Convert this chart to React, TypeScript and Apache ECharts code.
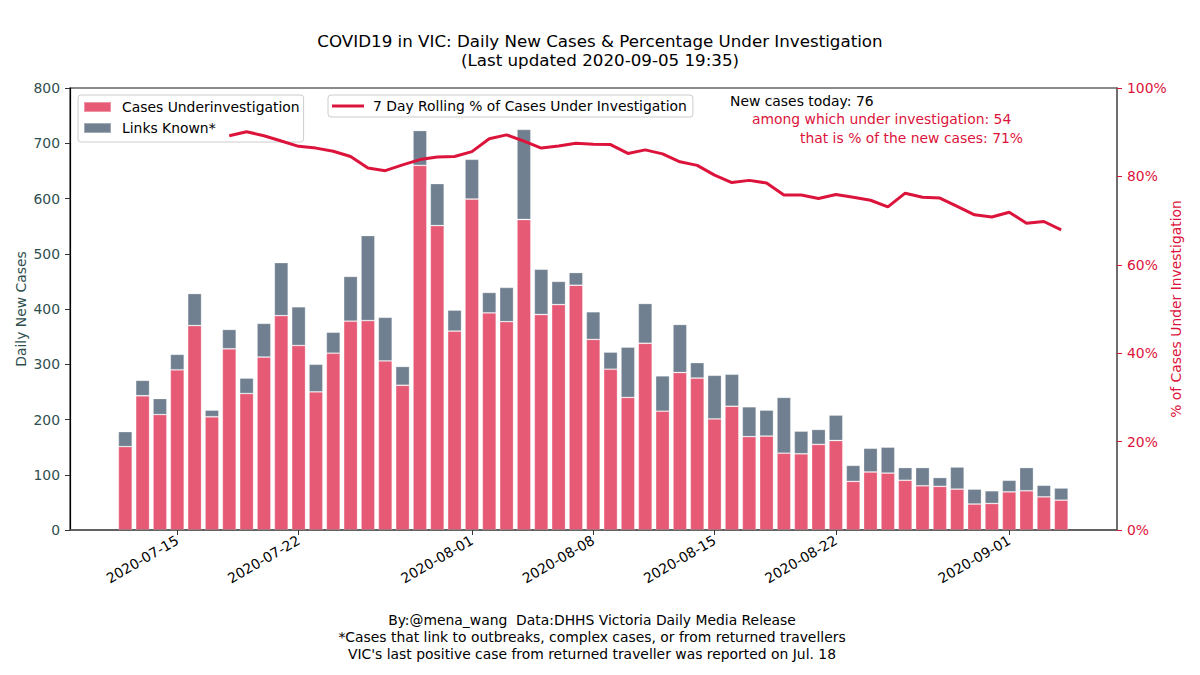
import React, { useEffect, useRef } from "react";
import * as echarts from "echarts";

const dates = [
  "2020-07-12", "2020-07-13", "2020-07-14", "2020-07-15", "2020-07-16", "2020-07-17", "2020-07-18",
  "2020-07-19", "2020-07-20", "2020-07-21", "2020-07-22", "2020-07-23", "2020-07-24", "2020-07-25",
  "2020-07-26", "2020-07-27", "2020-07-28", "2020-07-29", "2020-07-30", "2020-07-31", "2020-08-01",
  "2020-08-02", "2020-08-03", "2020-08-04", "2020-08-05", "2020-08-06", "2020-08-07", "2020-08-08",
  "2020-08-09", "2020-08-10", "2020-08-11", "2020-08-12", "2020-08-13", "2020-08-14", "2020-08-15",
  "2020-08-16", "2020-08-17", "2020-08-18", "2020-08-19", "2020-08-20", "2020-08-21", "2020-08-22",
  "2020-08-23", "2020-08-24", "2020-08-25", "2020-08-26", "2020-08-27", "2020-08-28", "2020-08-29",
  "2020-08-30", "2020-08-31", "2020-09-01", "2020-09-02", "2020-09-03", "2020-09-04",
];

const underInvestigation = [
  151, 243, 209, 290, 370, 205, 328, 247, 313, 388, 334, 250, 320, 378, 379, 306, 262, 660, 551, 360,
  599, 393, 377, 562, 390, 408, 443, 345, 291, 240, 338, 215, 285, 275, 201, 224, 169, 170, 139, 138,
  155, 162, 88, 105, 103, 90, 80, 79, 74, 47, 48, 69, 71, 60, 54,
];

const totalCases = [
  178, 271, 238, 318, 428, 217, 363, 275, 374, 484, 404, 300, 358, 459, 533, 385, 296, 723, 627, 398,
  671, 430, 439, 725, 472, 450, 466, 395, 322, 331, 410, 279, 372, 303, 280, 282, 223, 217, 240, 179,
  182, 208, 117, 148, 150, 113, 113, 95, 114, 74, 71, 90, 113, 81, 76,
];

// 7-day rolling % under investigation, starting at 2020-07-18
const rollingStart = 6;
const rollingPct = [
  89.2, 90.1, 89.2, 88.0, 86.8, 86.4, 85.7, 84.5, 81.9, 81.3, 82.6, 83.8, 84.4, 84.5, 85.6, 88.5, 89.4,
  88.0, 86.4, 86.9, 87.5, 87.3, 87.2, 85.2, 86.0, 85.1, 83.3, 82.5, 80.3, 78.6, 79.1, 78.5, 75.8, 75.8,
  75.0, 75.9, 75.3, 74.6, 73.1, 76.2, 75.3, 75.1, 73.2, 71.3, 70.8, 71.9, 69.4, 69.8, 67.9,
];

const tickDates = ["2020-07-15", "2020-07-22", "2020-08-01", "2020-08-08", "2020-08-15", "2020-08-22", "2020-09-01"];
const leftTicks = { min: 0, max: 800, interval: 100 };
const rightTicks = { min: 0, max: 100, interval: 20 };

const FONT = "DejaVu Sans";
const CRIMSON = "#dc143c";
const RED_BAR = "rgba(220,20,60,0.7)";
const GRAY_BAR = "#708090";

// plot frame (pixels) and day-padding of the x range
const PLOT = { left: 70, right: 1117, top: 88, bottom: 530 };
const X_MIN = -3.19;
const X_MAX = 57.22;

export default function App() {
  const ref = useRef<HTMLDivElement>(null);

  useEffect(() => {
    if (!ref.current) return;
    const chart = echarts.init(ref.current, null, { renderer: "svg" });
    const tickIdx = tickDates.map((d) => dates.indexOf(d));
    const lineData = rollingPct.map((v, i) => [i + rollingStart, v]);
    const last = dates.length - 1;
    const lastTotal = totalCases[last];
    const lastInv = underInvestigation[last];
    const lastPct = Math.round((lastInv / lastTotal) * 100);

    // band grid for the bars: category bands aligned with the day positions of the value axis
    const pxPerDay = (PLOT.right - PLOT.left) / (X_MAX - X_MIN);
    const bandLeft = PLOT.left + (-0.5 - X_MIN) * pxPerDay;
    const bandRight = PLOT.left + (last + 0.5 - X_MIN) * pxPerDay;

    chart.setOption({
      animation: false,
      backgroundColor: "#fff",
      textStyle: { fontFamily: FONT },
      grid: [
        {
          left: PLOT.left,
          right: 1200 - PLOT.right,
          top: PLOT.top,
          bottom: 675 - PLOT.bottom,
          show: true,
          borderColor: "#666",
          borderWidth: 1.5,
          backgroundColor: "transparent",
        },
        {
          left: bandLeft,
          right: 1200 - bandRight,
          top: PLOT.top,
          bottom: 675 - PLOT.bottom,
        },
      ],
      legend: [
        {
          data: ["Cases Underinvestigation", "Links Known*"],
          orient: "vertical",
          left: 78,
          top: 95,
          icon: "rect",
          itemWidth: 27,
          itemHeight: 10,
          itemGap: 5,
          padding: [4, 4, 6, 5],
          borderColor: "#ccc",
          borderWidth: 1,
          borderRadius: 3,
          backgroundColor: "rgba(255,255,255,0.8)",
          formatter: (n: string) => `{t|${n}}`,
          textStyle: {
            rich: { t: { fontFamily: FONT, fontSize: 13.9, color: "#000", padding: [0, 0, 0, 6], height: 16, lineHeight: 16 } },
          },
        },
        {
          data: [{ name: "7 Day Rolling % of Cases Under Investigation", icon: "rect" }],
          left: 328,
          top: 95,
          itemWidth: 32,
          itemHeight: 3,
          padding: [4, 6, 4, 4],
          borderColor: "#ccc",
          borderWidth: 1,
          borderRadius: 3,
          backgroundColor: "rgba(255,255,255,0.8)",
          formatter: (n: string) => `{t|${n}}`,
          textStyle: {
            rich: { t: { fontFamily: FONT, fontSize: 13.9, color: "#000", padding: [0, 0, 0, 4], lineHeight: 16 } },
          },
        },
      ],
      xAxis: [
        {
          type: "value",
          gridIndex: 0,
          min: X_MIN,
          max: X_MAX,
          splitLine: { show: false },
          axisLine: { show: true, onZero: false, lineStyle: { color: "#555", width: 1.5 } },
          axisTick: { show: true, length: 5, customValues: tickIdx, lineStyle: { color: "#333" } },
          axisLabel: {
            customValues: tickIdx,
            rotate: 30,
            margin: 9,
            color: "#000",
            fontFamily: FONT,
            fontSize: 13.9,
            formatter: (v: number) => dates[Math.round(v)] ?? "",
          },
        },
        {
          type: "category",
          gridIndex: 1,
          data: dates,
          show: false,
          boundaryGap: true,
        },
      ],
      yAxis: [
        {
          type: "value",
          gridIndex: 0,
          position: "left",
          ...leftTicks,
          splitLine: { show: false },
          axisLine: { show: true, onZero: false, lineStyle: { color: "#000", width: 1.2 } },
          axisTick: { show: true, length: 5, lineStyle: { color: "#333" } },
          axisLabel: { color: "#2f4f4f", fontFamily: FONT, fontSize: 13.9, margin: 10 },
          name: "Daily New Cases",
          nameLocation: "middle",
          nameMoveOverlap: false,
          nameGap: 42,
          nameTextStyle: { color: "#2f4f4f", fontFamily: FONT, fontSize: 13.9 },
        },
        {
          type: "value",
          gridIndex: 0,
          position: "right",
          ...rightTicks,
          splitLine: { show: false },
          axisLine: { show: true, onZero: false, lineStyle: { color: "#666", width: 1.5 } },
          axisTick: { show: true, length: 5, lineStyle: { color: CRIMSON } },
          axisLabel: { color: CRIMSON, fontFamily: FONT, fontSize: 13.9, margin: 10, formatter: "{value}%" },
          name: "% of Cases Under Investigation",
          nameLocation: "middle",
          nameMoveOverlap: false,
          nameGap: 52,
          nameTextStyle: { color: CRIMSON, fontFamily: FONT, fontSize: 13.9 },
        },
        {
          type: "value",
          gridIndex: 1,
          ...leftTicks,
          show: false,
          splitLine: { show: false },
        },
      ],
      series: [
        {
          name: "Cases Underinvestigation",
          type: "bar",
          xAxisIndex: 1,
          yAxisIndex: 2,
          stack: "total",
          barWidth: "80%",
          data: underInvestigation,
          itemStyle: { color: RED_BAR, borderColor: "rgba(255,255,255,0.35)", borderWidth: 0.8 },
        },
        {
          name: "Links Known*",
          type: "bar",
          xAxisIndex: 1,
          yAxisIndex: 2,
          stack: "total",
          barWidth: "80%",
          data: totalCases.map((v, i) => v - underInvestigation[i]),
          itemStyle: { color: GRAY_BAR, borderColor: "rgba(255,255,255,0.35)", borderWidth: 0.8 },
        },
        {
          name: "7 Day Rolling % of Cases Under Investigation",
          type: "line",
          xAxisIndex: 0,
          yAxisIndex: 1,
          symbol: "none",
          data: lineData,
          lineStyle: { color: CRIMSON, width: 3 },
          itemStyle: { color: CRIMSON },
          z: 5,
        },
      ],
      graphic: [
        {
          type: "text",
          x: 600,
          y: 31,
          style: {
            text: "COVID19 in VIC: Daily New Cases & Percentage Under Investigation\n(Last updated 2020-09-05 19:35)",
            fill: "#000",
            font: `16.7px "${FONT}"`,
            align: "center",
            lineHeight: 19,
          },
        },
        {
          type: "text",
          x: 730,
          y: 101,
          style: { text: `New cases today: ${lastTotal}`, fill: "#000", font: `13.9px "${FONT}"`, verticalAlign: "middle" },
        },
        {
          type: "text",
          x: 752,
          y: 118.5,
          style: { text: `among which under investigation: ${lastInv}`, fill: CRIMSON, font: `13.9px "${FONT}"`, verticalAlign: "middle" },
        },
        {
          type: "text",
          x: 800,
          y: 138,
          style: { text: `that is % of the new cases: ${lastPct}%`, fill: CRIMSON, font: `13.9px "${FONT}"`, verticalAlign: "middle" },
        },
        {
          type: "text",
          x: 592,
          y: 611,
          style: {
            text: "By:@mena_wang  Data:DHHS Victoria Daily Media Release\n*Cases that link to outbreaks, complex cases, or from returned travellers\nVIC's last positive case from returned traveller was reported on Jul. 18",
            fill: "#000",
            font: `13.9px "${FONT}"`,
            align: "center",
            lineHeight: 17,
          },
        },
      ],
    });
    return () => chart.dispose();
  }, []);

  return <div ref={ref} style={{ width: 1200, height: 675, position: "absolute", left: 0, top: 0 }} />;
}
